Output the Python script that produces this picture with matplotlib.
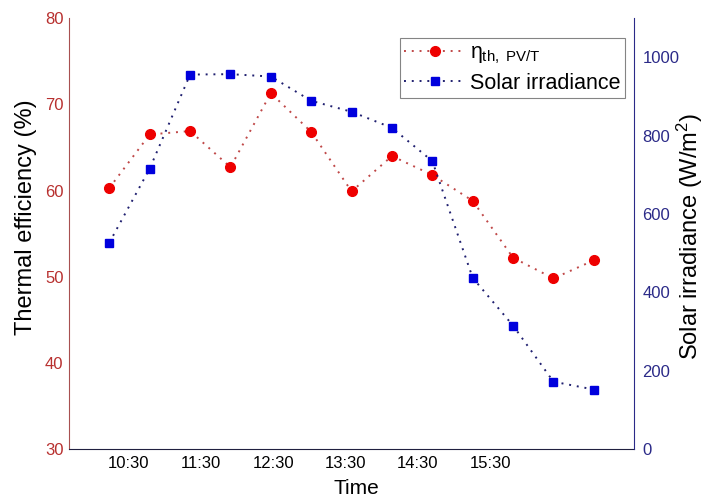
import matplotlib
matplotlib.use("Agg")
import matplotlib.pyplot as plt

plt.rcParams['font.family'] = ['Liberation Sans', 'DejaVu Sans']
plt.rcParams['mathtext.fontset'] = 'custom'
plt.rcParams['mathtext.rm'] = 'Liberation Sans'
plt.rcParams['mathtext.it'] = 'Liberation Sans'

# sample number of each measurement
samples = [1, 2, 3, 4, 5, 6, 7, 8, 9, 10, 11, 12, 13]
# thermal efficiency of the PV/T collector (%)
efficiency = [60.3, 66.5, 66.9, 62.7, 71.3, 66.8, 59.9, 64.0, 61.8, 58.8, 52.2, 49.8, 51.9]
# solar irradiance (W/m^2)
irradiance = [527, 716, 956, 957, 951, 889, 861, 820, 735, 437, 315, 172, 152]

time_ticks = [1.48, 3.27, 5.06, 6.85, 8.64, 10.43]
time_labels = ["10:30", "11:30", "12:30", "13:30", "14:30", "15:30"]

red_axis = "#b8302f"
blue_axis = "#2b2a88"

fig = plt.figure(figsize=(7.11, 5.04), dpi=100)
ax = fig.add_axes([0.097, 0.109, 0.795, 0.855])
ax2 = ax.twinx()

dots = (0, (1, 3))
l1, = ax.plot(samples, efficiency, linestyle=dots, color="#c04848", linewidth=1.4,
              marker="o", markersize=7, markerfacecolor="#ee0000",
              markeredgecolor="#ee0000", label=r"$\eta_{\mathrm{th,\ PV/T}}$")
l2, = ax2.plot(samples, irradiance, linestyle=dots, color="#202070", linewidth=1.4,
               marker="s", markersize=5.5, markerfacecolor="#0000dd",
               markeredgecolor="#0000dd", label="Solar irradiance")

ax.set_xlim(0, 14)
ax.set_ylim(30, 80)
ax2.set_ylim(0, 1100)
ax.set_yticks([30, 40, 50, 60, 70, 80])
ax2.set_yticks([0, 200, 400, 600, 800, 1000])
ax.set_xticks(time_ticks)
ax.set_xticklabels(time_labels)

ax.tick_params(axis="y", length=0, labelsize=12, labelcolor=red_axis, pad=4)
ax.tick_params(axis="x", length=0, labelsize=12, pad=5)
ax2.tick_params(axis="y", length=0, labelsize=12, labelcolor=blue_axis, pad=6)

for a in (ax, ax2):
    a.spines["top"].set_visible(False)
ax.spines["right"].set_visible(False)
ax2.spines["left"].set_visible(False)
ax2.spines["bottom"].set_visible(False)
ax.spines["left"].set_color("#a85050")
ax2.spines["right"].set_color(blue_axis)
ax.spines["bottom"].set_color("#202040")

ax.set_xlabel("Time", fontsize=15)
ax.set_ylabel("Thermal efficiency (%)", fontsize=17)
ax2.set_ylabel(r"Solar irradiance (W/m$^2$)", fontsize=17)

ax.xaxis.set_label_coords(0.508, -0.0905)
ax.xaxis.label.set_verticalalignment("center")
ax.yaxis.set_label_coords(-0.076, 0.538)
ax.yaxis.label.set_verticalalignment("center")
ax2.yaxis.set_label_coords(1.099, 0.494)
ax2.yaxis.label.set_verticalalignment("center")

leg = ax2.legend(handles=[l1, l2], loc="upper right", bbox_to_anchor=(0.984, 0.954),
                 borderaxespad=0, fontsize=15.5, frameon=True, fancybox=False,
                 handlelength=2.85, borderpad=0.22, labelspacing=0.3,
                 handletextpad=0.2)
leg.get_frame().set_edgecolor("#666666")
leg.get_frame().set_linewidth(0.8)

fig.savefig("out.png", dpi=100)
